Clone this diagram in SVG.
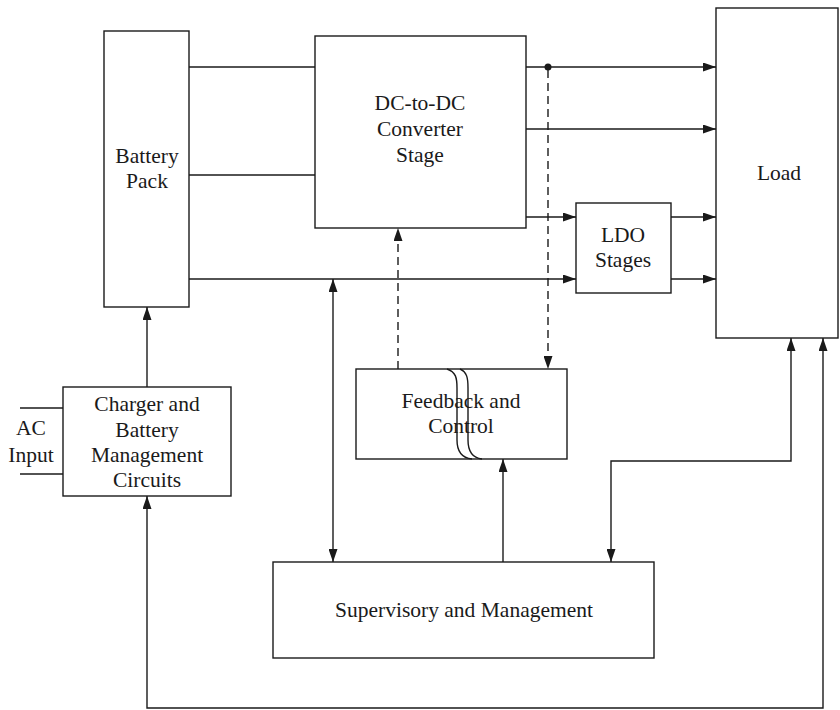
<svg xmlns="http://www.w3.org/2000/svg" width="840" height="710" viewBox="0 0 840 710">
  <style>
    .box { fill: #fff; stroke: #1a1a1a; stroke-width: 1.4; }
    .wire { fill: none; stroke: #1a1a1a; stroke-width: 1.4; }
    .dash { stroke-dasharray: 8 5; }
    .lbl { font-family: "Liberation Serif", "Times New Roman", serif; font-size: 21.5px; fill: #1a1a1a; text-anchor: middle; }
  </style>
  <defs>
    <marker id="arrow" viewBox="0 0 13 9" refX="13" refY="4.5" markerWidth="13" markerHeight="9" markerUnits="userSpaceOnUse" orient="auto-start-reverse">
      <path d="M0,0 L13,4.5 L0,9 z" fill="#1a1a1a"/>
    </marker>
  </defs>

  <rect width="840" height="710" fill="#fff"/>

  <!-- connectors -->
  <g id="connectors">
    <!-- battery to converter -->
    <line class="wire" x1="189" y1="67" x2="315" y2="67"/>
    <line class="wire" x1="189" y1="175" x2="315" y2="175"/>
    <!-- battery to LDO -->
    <line class="wire" x1="189" y1="279" x2="576" y2="279" marker-end="url(#arrow)"/>
    <!-- converter outputs -->
    <line class="wire" x1="526" y1="67" x2="716" y2="67" marker-end="url(#arrow)"/>
    <line class="wire" x1="526" y1="129" x2="716" y2="129" marker-end="url(#arrow)"/>
    <line class="wire" x1="526" y1="217" x2="576" y2="217" marker-end="url(#arrow)"/>
    <circle cx="548" cy="67" r="3.5" fill="#1a1a1a"/>
    <!-- LDO outputs -->
    <line class="wire" x1="671" y1="217" x2="716" y2="217" marker-end="url(#arrow)"/>
    <line class="wire" x1="671" y1="279" x2="716" y2="279" marker-end="url(#arrow)"/>
    <!-- sense and control (dashed) -->
    <line class="wire dash" x1="548" y1="70" x2="548" y2="369" marker-end="url(#arrow)"/>
    <line class="wire dash" x1="398" y1="369" x2="398" y2="228" marker-end="url(#arrow)"/>
    <!-- battery bus to supervisory -->
    <line class="wire" x1="333" y1="279" x2="333" y2="562" marker-start="url(#arrow)" marker-end="url(#arrow)"/>
    <!-- supervisory to feedback -->
    <line class="wire" x1="503" y1="562" x2="503" y2="459" marker-end="url(#arrow)"/>
    <!-- charger to battery -->
    <line class="wire" x1="147" y1="387" x2="147" y2="307" marker-end="url(#arrow)"/>
    <!-- AC input leads -->
    <line class="wire" x1="20" y1="408" x2="63" y2="408"/>
    <line class="wire" x1="20" y1="474" x2="63" y2="474"/>
    <!-- supervisory to load -->
    <path class="wire" d="M611,562 V461 H791 V338" marker-start="url(#arrow)" marker-end="url(#arrow)"/>
    <!-- load to charger -->
    <path class="wire" d="M823,338 V708 H147 V496" marker-start="url(#arrow)" marker-end="url(#arrow)"/>
  </g>

  <!-- nodes -->
  <g id="battery-pack">
    <rect class="box" x="104" y="31" width="85" height="276"/>
    <text class="lbl" x="147" y="163">Battery</text>
    <text class="lbl" x="147" y="188">Pack</text>
  </g>

  <g id="dc-dc-converter">
    <rect class="box" x="315" y="36" width="211" height="192"/>
    <text class="lbl" x="420" y="110">DC-to-DC</text>
    <text class="lbl" x="420" y="136">Converter</text>
    <text class="lbl" x="420" y="162">Stage</text>
  </g>

  <g id="load">
    <rect class="box" x="716" y="8" width="122" height="330"/>
    <text class="lbl" x="779" y="180">Load</text>
  </g>

  <g id="ldo-stages">
    <rect class="box" x="576" y="203" width="95" height="90"/>
    <text class="lbl" x="623" y="242">LDO</text>
    <text class="lbl" x="623" y="267">Stages</text>
  </g>

  <g id="feedback-control">
    <rect class="box" x="356" y="369" width="211" height="90"/>
    <text class="lbl" x="461" y="408">Feedback and</text>
    <text class="lbl" x="461" y="433">Control</text>
    <path class="wire" d="M447,369 C456,372 457,378 457,388 V440 C457,452 462,458 472,459"/>
    <path class="wire" d="M460,369 C467,372 468,378 468,388 V440 C468,452 473,458 482,459"/>
  </g>

  <g id="charger">
    <rect class="box" x="63" y="387" width="168" height="109"/>
    <text class="lbl" x="147" y="411">Charger and</text>
    <text class="lbl" x="147" y="437">Battery</text>
    <text class="lbl" x="147" y="462">Management</text>
    <text class="lbl" x="147" y="487">Circuits</text>
  </g>

  <g id="ac-input">
    <text class="lbl" x="31" y="435">AC</text>
    <text class="lbl" x="31" y="462">Input</text>
  </g>

  <g id="supervisory">
    <rect class="box" x="273" y="562" width="381" height="96"/>
    <text class="lbl" x="464" y="617">Supervisory and Management</text>
  </g>
</svg>
